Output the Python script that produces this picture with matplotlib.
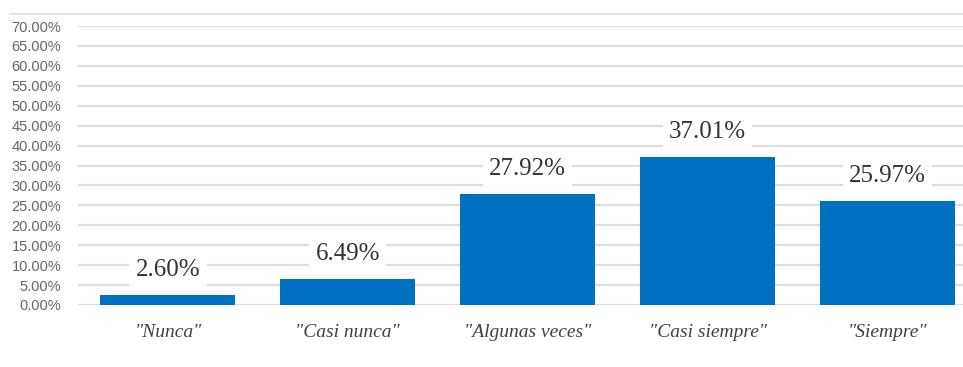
import numpy as np
import matplotlib.pyplot as plt
from matplotlib.lines import Line2D
from matplotlib.ticker import MultipleLocator, FuncFormatter

# Response frequencies
categories = ['"Nunca"', '"Casi nunca"', '"Algunas veces"', '"Casi siempre"', '"Siempre"']
percentages = [2.60, 6.49, 27.92, 37.01, 25.97]

W, H = 963, 367
fig = plt.figure(figsize=(W / 100, H / 100), dpi=100)

# plot area in pixel coordinates
left, right, top, bottom = 78, 963, 26, 305
ax = fig.add_axes([left / W, (H - bottom) / H, (right - left) / W, (bottom - top) / H])

x = np.arange(len(categories))
values = np.array(percentages) / 100
ax.bar(x, values, width=0.75, color="#0070C0", zorder=2)

for xi, v, p in zip(x, values, percentages):
    ax.annotate(f"{p:.2f}%", (xi, v), xytext=(0, 18), textcoords="offset points",
                ha="center", va="center", fontsize=18, family="Liberation Serif",
                color="#333333", zorder=3,
                bbox=dict(boxstyle="square,pad=0.25", fc="white", ec="none"))

ax.set_ylim(0, 0.70)
ax.set_xlim(-0.5, 4.42)
ax.yaxis.set_major_locator(MultipleLocator(0.05))
ax.yaxis.set_major_formatter(FuncFormatter(lambda v, _: f"{v * 100:.2f}%"))
ax.grid(axis="y", color="#dedede", lw=1.6, zorder=0)
ax.set_axisbelow(True)
for s in ax.spines.values():
    s.set_visible(False)

ax.set_xticks(x)
ax.set_xticklabels(categories, family="Liberation Serif", style="italic",
                   fontsize=14, color="#404040")
ax.tick_params(axis="x", length=0, pad=14)
ax.tick_params(axis="y", length=0, pad=12, labelsize=10.5, labelcolor="#666666")
for lbl in ax.get_yticklabels():
    lbl.set_family("Liberation Sans")

# chart frame line along the top
fig.add_artist(Line2D([10 / W, 1], [(H - 14) / H] * 2, color="#e3e3e3", lw=1.5))

fig.savefig("out.png", dpi=100)
